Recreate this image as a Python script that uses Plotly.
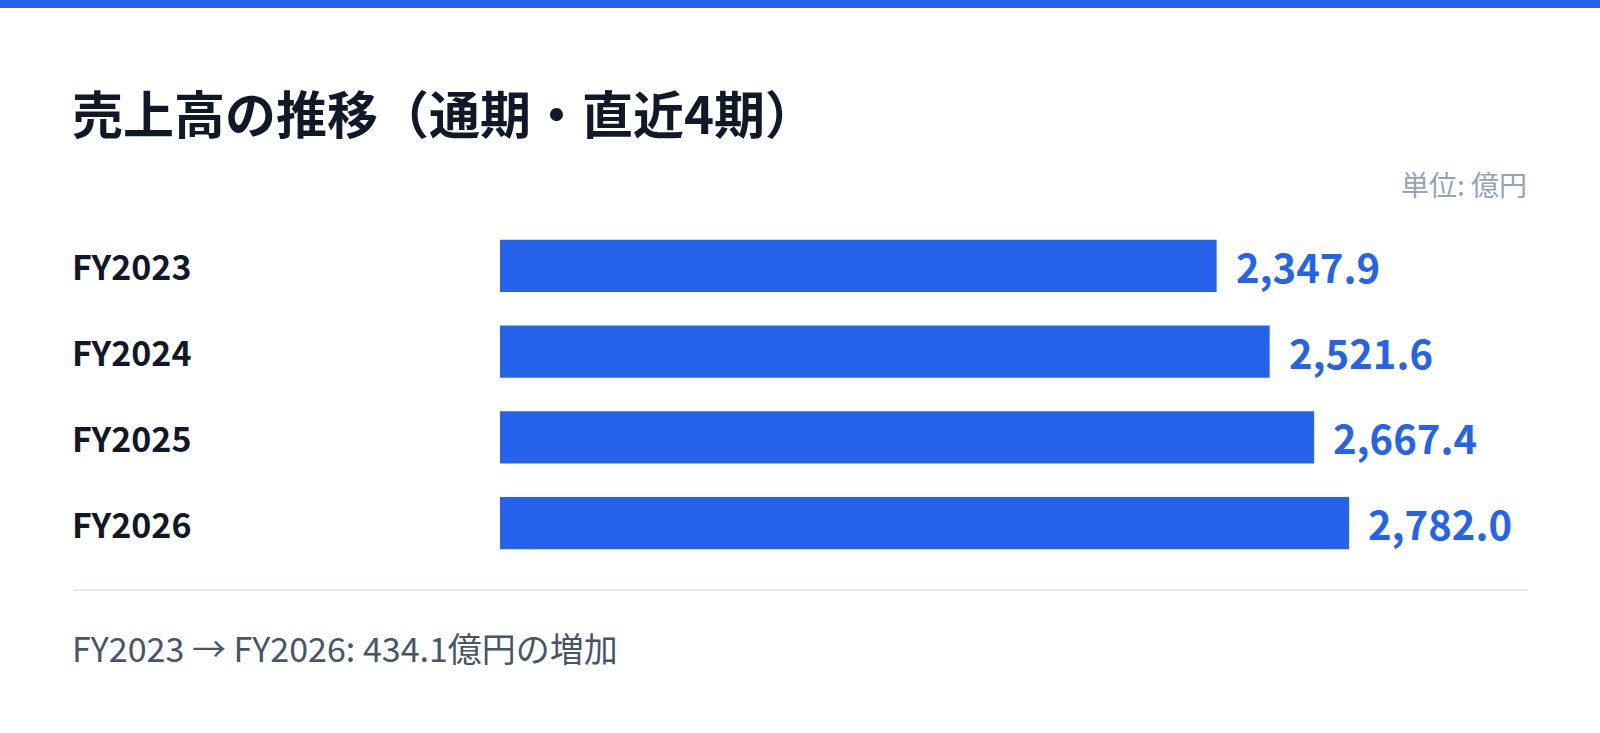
import plotly.graph_objects as go

# ---- data ----
categories = ["FY2023", "FY2024", "FY2025", "FY2026"]
sales = [2347.9, 2521.6, 2667.4, 2782.0]
title_text = "売上高の推移（通期・直近4期）"
unit_text = "単位: 億円"
footer_text = "FY2023 → FY2026: 434.1億円の増加"

W, H = 1600, 733
BLUE = "#2563eb"
DARK = "#111827"
FONT = "Noto Sans CJK JP"

def px(x):
    return x / W

def py(y):
    return 1 - y / H

fig = go.Figure()
fig.add_trace(go.Bar(
    x=sales, y=categories, orientation="h",
    marker=dict(color=BLUE, line=dict(width=0)),
    width=0.607,
    hoverinfo="skip",
))

annotations = []
# category labels (left aligned)
for c in categories:
    annotations.append(dict(
        x=px(70), xref="paper", y=c, yref="y", xanchor="left", yanchor="middle",
        text=c, showarrow=False,
        font=dict(family=FONT, size=34, color=DARK, weight="bold"),
    ))
# value labels
for c, v in zip(categories, sales):
    annotations.append(dict(
        x=v, xref="x", y=c, yref="y", xanchor="left", yanchor="middle",
        xshift=17, text=f"{v:,.1f}", showarrow=False,
        font=dict(family=FONT, size=40, color=BLUE, weight="bold"),
    ))
annotations.append(dict(
    x=px(70), xref="paper", y=py(112), yref="paper", xanchor="left", yanchor="middle",
    text=title_text, showarrow=False,
    font=dict(family=FONT, size=51, color=DARK, weight="bold"),
))
annotations.append(dict(
    x=px(1529), xref="paper", y=py(184), yref="paper", xanchor="right", yanchor="middle",
    text=unit_text, showarrow=False,
    font=dict(family=FONT, size=28, color="#94a3b8"),
))
annotations.append(dict(
    x=px(70), xref="paper", y=py(647), yref="paper", xanchor="left", yanchor="middle",
    text=footer_text, showarrow=False,
    font=dict(family=FONT, size=34, color="#475569"),
))

shapes = [
    dict(type="rect", xref="paper", yref="paper", x0=0, x1=1, y0=py(8), y1=1,
         fillcolor=BLUE, line=dict(width=0), layer="above"),
    dict(type="line", xref="paper", yref="paper", x0=px(73), x1=px(1528),
         y0=py(590), y1=py(590), line=dict(color="#e2e8f0", width=2)),
]

fig.update_layout(
    width=W, height=H,
    margin=dict(l=0, r=0, t=0, b=0, pad=0),
    paper_bgcolor="white", plot_bgcolor="white",
    showlegend=False,
    xaxis=dict(domain=[px(500), px(1528)], range=[0, 3368], visible=False, fixedrange=True),
    yaxis=dict(domain=[py(566), py(223)], range=[3.5, -0.5], visible=False, fixedrange=True,
               categoryorder="array", categoryarray=categories),
    annotations=annotations,
    shapes=shapes,
)

fig.write_html("out.html", config={"displayModeBar": False},
               post_script="document.body.style.margin='0';document.body.style.overflow='hidden';")
